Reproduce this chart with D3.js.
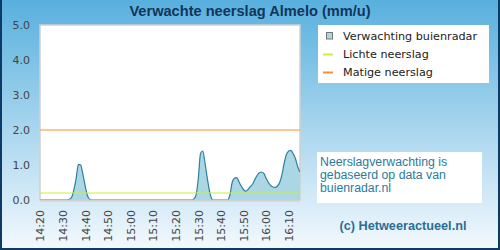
<!DOCTYPE html>
<html>
<head>
<meta charset="utf-8">
<script src="https://cdn.jsdelivr.net/npm/d3@7"></script>
<style>
  body { margin: 0; padding: 0; }
  svg { display: block; }
</style>
</head>
<body>
<script>
// tijden (hh:mm) en verwachte neerslag in mm/u
const times = [
  '14:20', '14:32', '14:33', '14:34', '14:35', '14:36', '14:37', '14:38', '14:39', '14:40', '14:41', '14:42', '14:43',
  '15:27', '15:28', '15:29', '15:30', '15:31', '15:32', '15:33', '15:34', '15:35', '15:36', '15:37',
  '15:43', '15:44', '15:45', '15:46', '15:47', '15:48', '15:49', '15:50', '15:51', '15:52', '15:53', '15:54',
  '15:55', '15:56', '15:57', '15:58', '15:59', '16:00', '16:01', '16:02', '16:03', '16:04', '16:05', '16:06',
  '16:07', '16:08', '16:09', '16:10', '16:11', '16:12', '16:13', '16:14', '16:15'
]
const rain = [
  0, 0, 0.02, 0.08, 0.3, 0.62, 1.02, 1.0, 0.72, 0.4, 0.12, 0.02, 0,
  0, 0.03, 0.14, 0.6, 1.33, 1.4, 1.05, 0.62, 0.25, 0.03, 0,
  0, 0.15, 0.5, 0.62, 0.64, 0.52, 0.4, 0.3, 0.25, 0.3, 0.38, 0.45,
  0.58, 0.7, 0.78, 0.8, 0.76, 0.62, 0.5, 0.42, 0.37, 0.36, 0.4, 0.5,
  0.72, 1.05, 1.3, 1.4, 1.42, 1.32, 1.18, 0.95, 0.8
]
const xTicks = ['14:20', '14:30', '14:40', '14:50', '15:00', '15:10', '15:20', '15:30', '15:40', '15:50', '16:00', '16:10']
const yTicks = [0, 1, 2, 3, 4, 5]
const LICHT = 0.2
const MATIG = 2.0

const legendItems = ['Verwachting buienradar', 'Lichte neerslag', 'Matige neerslag']
const infoLines = ['Neerslagverwachting is', 'gebaseerd op data van', 'buienradar.nl']

const WIDTH = 500
const HEIGHT = 250
const PLOT_LEFT = 40
const PLOT_RIGHT = 300
const PLOT_TOP = 25
const PLOT_BOTTOM = 200

const parse = d3.timeParse('%H:%M')
const data = times.map((t, i) => ({ t: parse(t), v: rain[i] }))

const svg = d3.select('body').append('svg').attr('width', WIDTH).attr('height', HEIGHT)

// achtergrond
const grad = svg.append('defs').append('linearGradient')
  .attr('id', 'bg').attr('x1', 0).attr('y1', 0).attr('x2', 0).attr('y2', 1)
grad.append('stop').attr('offset', '0%').attr('stop-color', '#58b0de')
grad.append('stop').attr('offset', '100%').attr('stop-color', '#f4f9fd')
svg.append('rect').attr('width', WIDTH).attr('height', HEIGHT).attr('fill', 'url(#bg)')

// kader
svg.append('path')
  .attr('d', `M1,0 V${HEIGHT - 1} H${WIDTH - 1} V0`)
  .attr('fill', 'none').attr('stroke', '#0d3a66').attr('stroke-width', 2)

svg.append('text')
  .attr('x', 250).attr('y', 16)
  .attr('text-anchor', 'middle')
  .attr('font-family', 'Liberation Sans, Arial, sans-serif')
  .attr('font-weight', 'bold')
  .attr('font-size', 14.6)
  .attr('fill', '#12355a')
  .text('Verwachte neerslag Almelo (mm/u)')

const x = d3.scaleTime()
  .domain([parse('14:20'), parse('16:15')])
  .range([PLOT_LEFT, PLOT_RIGHT])
const y = d3.scaleLinear()
  .domain([0, 5])
  .range([PLOT_BOTTOM, PLOT_TOP])

svg.append('rect')
  .attr('x', PLOT_LEFT).attr('y', PLOT_TOP)
  .attr('width', PLOT_RIGHT - PLOT_LEFT).attr('height', PLOT_BOTTOM - PLOT_TOP)
  .attr('fill', '#fff').attr('stroke', '#d0d0d0').attr('stroke-width', 1.5)

const area = d3.area()
  .x(d => x(d.t)).y0(y(0)).y1(d => y(d.v))
  .curve(d3.curveMonotoneX)
const line = d3.line()
  .x(d => x(d.t)).y(d => y(d.v))
  .curve(d3.curveMonotoneX)

const clip = svg.append('clipPath').attr('id', 'plot')
clip.append('rect')
  .attr('x', PLOT_LEFT).attr('y', PLOT_TOP)
  .attr('width', PLOT_RIGHT - PLOT_LEFT).attr('height', PLOT_BOTTOM - PLOT_TOP)

const g = svg.append('g').attr('clip-path', 'url(#plot)')
g.append('path').datum(data).attr('d', area).attr('fill', '#abd6e4')
g.append('path').datum(data).attr('d', line)
  .attr('fill', 'none').attr('stroke', '#2f7f9e').attr('stroke-width', 1.2)

// drempels
g.append('line')
  .attr('x1', PLOT_LEFT).attr('x2', PLOT_RIGHT)
  .attr('y1', y(LICHT)).attr('y2', y(LICHT))
  .attr('stroke', '#c8f040').attr('stroke-width', 1.2)
g.append('line')
  .attr('x1', PLOT_LEFT).attr('x2', PLOT_RIGHT)
  .attr('y1', y(MATIG)).attr('y2', y(MATIG))
  .attr('stroke', '#ff8f2e').attr('stroke-width', 1.2)

// onderrand
svg.append('line')
  .attr('x1', PLOT_LEFT).attr('x2', PLOT_RIGHT)
  .attr('y1', PLOT_BOTTOM + 0.5).attr('y2', PLOT_BOTTOM + 0.5)
  .attr('stroke', '#d0d0d0').attr('stroke-width', 2)

// assen
const axisY = d3.axisLeft(y).tickValues(yTicks).tickFormat(d3.format('.1f')).tickSize(0).tickPadding(0)
const gy = svg.append('g').attr('transform', `translate(30, 0)`).call(axisY)
gy.select('.domain').remove()
gy.selectAll('text')
  .attr('font-family', 'DejaVu Sans, sans-serif').attr('font-size', 11).attr('fill', '#444')

const axisX = d3.axisBottom(x).tickValues(xTicks.map(parse)).tickFormat(d3.timeFormat('%H:%M')).tickSize(0)
const gx = svg.append('g').attr('transform', `translate(0, ${PLOT_BOTTOM})`).call(axisX)
gx.select('.domain').remove()
gx.selectAll('text')
  .attr('font-family', 'DejaVu Sans, sans-serif').attr('font-size', 11).attr('fill', '#444')
  .attr('text-anchor', 'end')
  .attr('dy', '0.35em')
  .attr('transform', 'translate(0, 10) rotate(-90)')
  .attr('x', 0).attr('y', 0)

// legenda
const leg = svg.append('g')
leg.append('rect').attr('x', 318).attr('y', 25).attr('width', 171).attr('height', 58).attr('fill', '#fff')
const legItem = leg.selectAll('g.item').data(legendItems).enter().append('g')
  .attr('transform', (d, i) => `translate(0, ${40 + i * 18})`)
legItem.append('text')
  .attr('x', 343).attr('y', 0)
  .attr('font-family', 'DejaVu Sans, sans-serif').attr('font-size', 11.2).attr('fill', '#222')
  .text(d => d)
legItem.filter((d, i) => i === 0).append('rect')
  .attr('x', 326.5).attr('y', -7.5).attr('width', 6).attr('height', 6.5)
  .attr('fill', '#abd6e4').attr('stroke', '#777').attr('stroke-width', 1)
legItem.filter((d, i) => i > 0).append('line')
  .attr('x1', 323).attr('x2', 333).attr('y1', -3.5).attr('y2', -3.5)
  .attr('stroke', (d, i) => i === 0 ? '#c8f040' : '#ff8f2e').attr('stroke-width', 2)

// info
svg.append('rect').attr('x', 317).attr('y', 152).attr('width', 165).attr('height', 51).attr('fill', '#fff')
svg.append('g').selectAll('text').data(infoLines).enter().append('text')
  .attr('x', 320).attr('y', (d, i) => 166 + i * 13)
  .attr('font-family', 'Liberation Sans, Arial, sans-serif').attr('font-size', 12.3)
  .attr('fill', '#2b7b9c')
  .text(d => d)

svg.append('text')
  .attr('x', 403).attr('y', 230)
  .attr('text-anchor', 'middle')
  .attr('font-family', 'Liberation Sans, Arial, sans-serif')
  .attr('font-weight', 'bold').attr('font-size', 12.7)
  .attr('fill', '#2a6e96')
  .text('(c) Hetweeractueel.nl')
</script>
</body>
</html>
